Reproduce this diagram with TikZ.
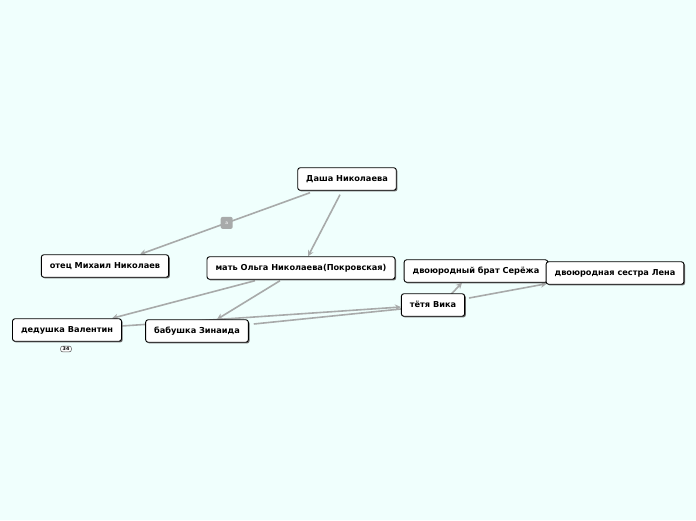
\documentclass[tikz,border=0pt]{standalone}
\usepackage{fontspec}
\setmainfont{DejaVu Sans}
\usetikzlibrary{positioning, calc, arrows.meta, shadows, backgrounds}
\definecolor{bgcyan}{RGB}{240,255,253}
\definecolor{linkgray}{RGB}{168,170,170}
\tikzset{
    person/.style={draw=black, fill=white, rounded corners=2.5pt, line width=0.9pt,
        font=\fontsize{8.2}{10}\selectfont\bfseries, inner xsep=8.5pt, inner ysep=0pt,
        minimum height=22.5pt, text height=6.5pt, text depth=1.5pt,
        drop shadow={shadow xshift=1.2pt, shadow yshift=-1.2pt, fill=black!55, opacity=1}},
    link/.style={draw=linkgray, line width=1.6pt, -{Stealth[length=6pt, width=6pt]}},
    plainlink/.style={draw=linkgray, line width=1.6pt},
    tag/.style={fill=linkgray, rounded corners=2pt, minimum size=12pt, inner sep=0pt,
        text=white, font=\fontsize{4.5}{5}\selectfont},
    badge/.style={draw=black!70, fill=white, rounded corners=2pt, line width=0.5pt,
        inner xsep=2pt, inner ysep=1pt, font=\fontsize{4.8}{5}\selectfont\bfseries}
}
\begin{document}
\begin{tikzpicture}[x=1pt, y=-1pt]

    \useasboundingbox (0,0) rectangle (696,520);

    % People
    \node[person] (dasha)   at (347,179) {Даша Николаева};
    \node[person] (otec)    at (105,266) {отец Михаил Николаев};
    \node[person] (mat)     at (301,268) {мать Ольга Николаева(Покровская)};
    \node[person] (ded)     at (67,330)  {дедушка Валентин};
    \node[person] (bab)     at (197,331) {бабушка Зинаида};
    \node[person] (vika)    at (433,305) {тётя Вика};
    \node[person] (serezha) at (476,271) {двоюродный брат Серёжа};
    \node[person] (lena)    at (615,273) {двоюродная сестра Лена};

    % Small markers
    \node[badge] (count) at (66,349) {34};

    \begin{scope}[on background layer]
        \fill[bgcyan] (0,0) rectangle (696,520);

        % Links between people
        \draw[link] ([xshift=-37pt, yshift=-2pt]dasha.south) -- ([xshift=35pt]otec.north)
            node[tag, pos=0.49] (tagA) {a};
        \draw[link] ([xshift=-7pt, yshift=-4pt]dasha.south) -- ([xshift=7pt]mat.north);
        \draw[link] ([xshift=-46pt, yshift=-1pt]mat.south) -- ([xshift=45pt]ded.north);
        \draw[link] ([xshift=-21pt, yshift=-1pt]mat.south) -- ([xshift=20pt]bab.north);
        \draw[link] ([yshift=4pt]ded.east) -- ([yshift=-2pt]vika.west);
        \draw[plainlink] ([xshift=5pt, yshift=7pt]bab.east) -- ([yshift=-4pt]vika.west);
        \draw[link] ([xshift=-14pt, yshift=-1pt]vika.north east) -- ([xshift=-14pt]serezha.south);
        \draw[link] ([xshift=4pt, yshift=7pt]vika.east) -- ([xshift=1pt, yshift=1pt]lena.south west);
    \end{scope}

\end{tikzpicture}
\end{document}
